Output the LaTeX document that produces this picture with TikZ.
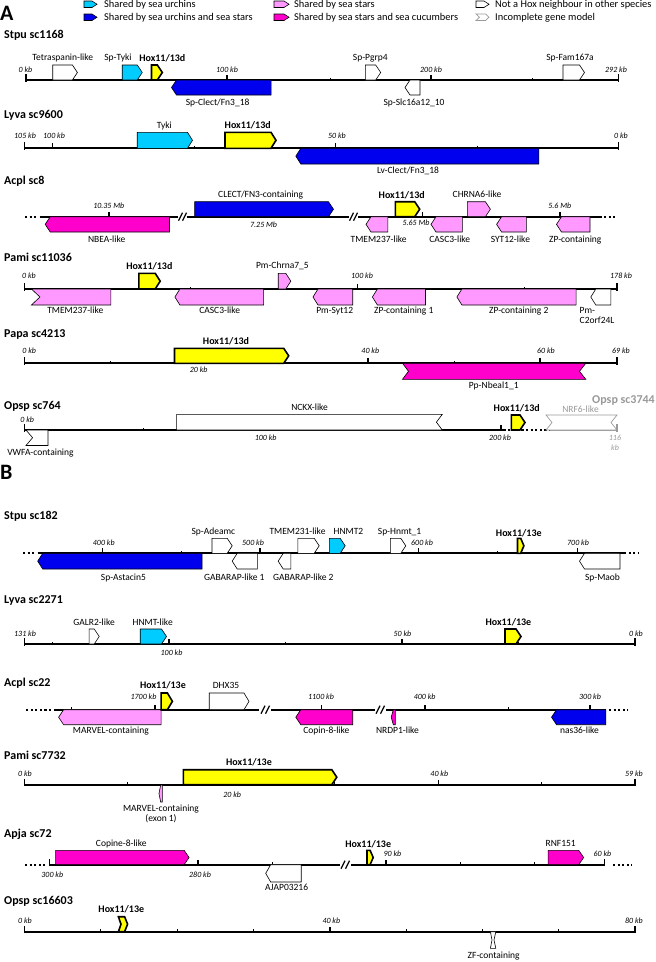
\documentclass[tikz,border=0pt]{standalone}
\usepackage{fontspec}
\setmainfont{Carlito}
\definecolor{cUrch}{HTML}{00CCFF}
\definecolor{cBlue}{HTML}{0000EE}
\definecolor{cPink}{HTML}{FF99FF}
\definecolor{cMag}{HTML}{FF00CC}
\definecolor{cYel}{HTML}{FFFF00}
\definecolor{cGray}{HTML}{999999}
\newcommand\gR[5]{\pgfmathsetmacro\hh{min(5,(#2-#1)*0.5)}%
  \path[#5] (#1,#3) -- ({#2-\hh},#3) -- (#2,{(#3+#4)/2}) -- ({#2-\hh},#4) -- (#1,#4) -- cycle;}
\newcommand\gL[5]{\pgfmathsetmacro\hh{min(5,(#2-#1)*0.5)}%
  \path[#5] (#2,#3) -- ({#1+\hh},#3) -- (#1,{(#3+#4)/2}) -- ({#1+\hh},#4) -- (#2,#4) -- cycle;}
\newcommand\tkE[2]{\draw[tkend] (#1,{#2+1.5}) -- (#1,{#2-6});}
\newcommand\tkM[2]{\draw[tkmaj] (#1,#2) -- (#1,{#2-5});}
\newcommand\tkm[2]{\draw[tkmin] (#1,#2) -- (#1,{#2-2.5});}
\newcommand\brkmk[2]{\draw[brk] ({#1-2},{#2+4}) -- ({#1+2},{#2-4});}
\tikzset{
 axisl/.style={line width=2pt},
 dotl/.style={line width=2.2pt, dash pattern=on 2.2pt off 2.4pt},
 tkend/.style={line width=1.6pt},
 tkmaj/.style={line width=1.6pt},
 tkmin/.style={line width=0.9pt},
 brk/.style={line width=1.3pt},
 gwhite/.style={draw=black, fill=white, line width=0.6pt},
 gurch/.style={draw=black, fill=cUrch, line width=0.6pt},
 gblue/.style={draw=black, fill=cBlue, line width=0.6pt},
 gpink/.style={draw=black, fill=cPink, line width=0.6pt},
 gmag/.style={draw=black, fill=cMag, line width=0.6pt},
 ghox/.style={draw=black, fill=cYel, line width=1.6pt},
 ginc/.style={draw=cGray, fill=white, line width=0.7pt},
 ttl/.style={font=\bfseries\fontsize{12}{12}\selectfont, anchor=west, inner sep=0pt},
 big/.style={font=\bfseries\fontsize{22}{22}\selectfont, anchor=west, inner sep=0pt},
 lbl/.style={font=\fontsize{9.5}{10}\selectfont, inner sep=0pt, text height=6.5pt, text depth=2pt},
 hlbl/.style={font=\bfseries\fontsize{10}{10}\selectfont, inner sep=0pt, text height=6.8pt, text depth=2pt},
 tkl/.style={font=\itshape\fontsize{8}{8}\selectfont, inner sep=0pt, text height=5.5pt, text depth=1.5pt},
 leg/.style={font=\fontsize{10.4}{11}\selectfont, anchor=west, inner sep=0pt, text height=7pt, text depth=2pt},
}
\begin{document}
\begin{tikzpicture}[x=1pt,y=-1pt]
\useasboundingbox (0,0) rectangle (656,962);
% ---------- legend ----------
\node[big] (pA) at (0,13) {A};
\gR{84}{97}{1}{7.5}{gurch}
\node[leg] (lg1) at (104,4.5) {Shared by sea urchins};
\gR{84}{97}{14}{20.5}{gblue}
\node[leg] (lg2) at (104,17.5) {Shared by sea urchins and sea stars};
\gR{274}{289}{1}{7.5}{gpink}
\node[leg] (lg3) at (294,4.5) {Shared by sea stars};
\gR{274}{289}{14}{20.5}{gmag}
\node[leg] (lg4) at (294,17.5) {Shared by sea stars and sea cucumbers};
\gR{476}{489}{1}{7.5}{gwhite}
\node[leg] (lg5) at (495,4.5) {Not a Hox neighbour in other species};
\path[ginc] (476,14) -- (485.5,14) -- (489,17.25) -- (485.5,20.5) -- (476,20.5) -- (479.5,17.25) -- cycle;
\node[leg] (lg6) at (495,17.5) {Incomplete gene model};
% ---------- Stpu sc1168 ----------
\node[ttl] (t1) at (4,35.3) {Stpu sc1168};
\draw[axisl] (25.9,80) -- (618.4,80);
\tkE{25.9}{80}\tkE{618.4}{80}\tkM{227}{80}\tkM{431}{80}
\tkm{127}{80}\tkm{330}{80}\tkm{532}{80}
\node[tkl] (k11) at (25.5,70.7) {0 kb};
\node[tkl] (k12) at (227,70.7) {100 kb};
\node[tkl] (k13) at (431,70.7) {200 kb};
\node[tkl] (k14) at (616,70.7) {292 kb};
\gR{52.7}{77.4}{65}{80}{gwhite}
\gR{122.2}{142.3}{65}{80}{gurch}
\gR{151.5}{162.3}{65}{80}{ghox}
\gL{171.5}{271.1}{80}{95}{gblue}
\gR{365.3}{380.7}{65}{80}{gwhite}
\gL{405}{420}{80}{95}{gwhite}
\gR{563}{584.5}{65}{80}{gwhite}
\node[lbl] (a1) at (62.8,58.7) {Tetraspanin-like};
\node[lbl] (a2) at (118,58.7) {Sp-Tyki};
\node[hlbl] (a3) at (162.3,58.7) {Hox11/13d};
\node[lbl] (a4) at (217.6,103) {Sp-Clect/Fn3\_18};
\node[lbl] (a5) at (370.3,58.7) {Sp-Pgrp4};
\node[lbl] (a6) at (414,103) {Sp-Slc16a12\_10};
\node[lbl] (a7) at (570,58.7) {Sp-Fam167a};
% ---------- Lyva sc9600 ----------
\node[ttl] (t2) at (4,115) {Lyva sc9600};
\draw[axisl] (24.3,148.3) -- (618.4,148.3);
\tkE{24.3}{148.3}\tkE{618.4}{148.3}\tkM{52.6}{148.3}\tkM{335.5}{148.3}
\tkm{194}{148.3}\tkm{477}{148.3}
\node[tkl] (k21) at (25,136) {105 kb};
\node[tkl] (k22) at (54,136) {100 kb};
\node[tkl] (k23) at (337,136) {50 kb};
\node[tkl] (k24) at (621,136) {0 kb};
\gR{137.2}{192.5}{132.3}{148.3}{gurch}
\gR{225}{276}{132.3}{148.3}{ghox}
\gL{295.8}{538.9}{148.3}{164}{gblue}
\node[lbl] (b1) at (164.4,126) {Tyki};
\node[hlbl] (b2) at (247.7,126) {Hox11/13d};
\node[lbl] (b3) at (408,171.7) {Lv-Clect/Fn3\_18};
% ---------- Acpl sc8 ----------
\node[ttl] (t3) at (4,181.7) {Acpl sc8};
\draw[dotl] (25,216.7) -- (38,216.7);
\draw[axisl] (39.7,216.7) -- (178,216.7);
\brkmk{180.5}{216.7}\brkmk{184.5}{216.7}
\draw[axisl] (186.5,216.7) -- (349,216.7);
\brkmk{351.5}{216.7}\brkmk{355.5}{216.7}
\draw[axisl] (358,216.7) -- (601.7,216.7);
\draw[dotl] (604,216.7) -- (617,216.7);
\tkM{108.8}{216.7}\tkM{422.6}{216.7}\tkM{559.8}{216.7}
\node[tkl] (k31) at (108.8,206.7) {10.35 Mb};
\node[tkl] (k32) at (263.6,225) {7.25 Mb};
\node[tkl] (k33) at (416,223.5) {5.65 Mb};
\node[tkl] (k34) at (559.8,206.7) {5.6 Mb};
\gL{45.2}{169.5}{216.7}{232}{gmag}
\gR{194.6}{333.5}{201.7}{216.7}{gblue}
\gR{395.4}{419.7}{201.7}{216.7}{ghox}
\gR{467.4}{490.4}{201.7}{216.7}{gpink}
\gL{366}{387.9}{216.7}{232}{gpink}
\gL{431}{462.3}{216.7}{232}{gpink}
\gL{496.6}{526.4}{216.7}{232}{gpink}
\gL{556.5}{590}{216.7}{232}{gpink}
\node[lbl] (c1) at (106.7,240) {NBEA-like};
\node[lbl] (c2) at (260.7,195) {CLECT/FN3-containing};
\node[hlbl] (c3) at (401.7,196) {Hox11/13d};
\node[lbl] (c4) at (477,195) {CHRNA6-like};
\node[lbl] (c5) at (378.7,240) {TMEM237-like};
\node[lbl] (c6) at (449.8,240) {CASC3-like};
\node[lbl] (c7) at (510.4,240) {SYT12-like};
\node[lbl] (c8) at (575.3,240) {ZP-containing};
% ---------- Pami sc11036 ----------
\node[ttl] (t4) at (4,257.3) {Pami sc11036};
\draw[axisl] (24.3,289) -- (617.1,289);
\tkE{24.3}{289}\tkE{617.1}{289}\tkM{357.4}{289}
\tkm{190.8}{289}\tkm{524}{289}
\node[tkl] (k41) at (29,276.7) {0 kb};
\node[tkl] (k42) at (362,276.7) {100 kb};
\node[tkl] (k43) at (621,276.7) {178 kb};
\gR{138.9}{160.2}{273.3}{289}{ghox}
\gR{278.2}{290.8}{273.3}{289}{gpink}
\path[gpink] (31.4,289) -- (110.9,289) -- (110.9,305) -- (31.4,305) -- (40,297) -- cycle;
\gL{174.9}{263.6}{289}{305}{gpink}
\gL{313}{352.7}{289}{305}{gpink}
\gL{372.4}{425.5}{289}{305}{gpink}
\gL{456.9}{576.1}{289}{305}{gpink}
\gL{590.8}{610.9}{289}{305}{gwhite}
\node[hlbl] (d1) at (149.4,266.7) {Hox11/13d};
\node[lbl] (d2) at (282.4,266.7) {Pm-Chrna7\_5};
\node[lbl] (d3) at (75.3,311.7) {TMEM237-like};
\node[lbl] (d4) at (219.7,311.7) {CASC3-like};
\node[lbl] (d5) at (334.7,311.7) {Pm-Syt12};
\node[lbl] (d6) at (403.8,311.7) {ZP-containing 1};
\node[lbl] (d7) at (518.8,311.7) {ZP-containing 2};
\node[lbl, anchor=west] (d8) at (579.5,311.7) {Pm-};
\node[lbl, anchor=west] (d9) at (579.5,321.7) {C2orf24L};
% ---------- Papa sc4213 ----------
\node[ttl] (t5) at (4,335) {Papa sc4213};
\draw[axisl] (24.3,363.3) -- (617.1,363.3);
\tkE{24.3}{363.3}\tkE{617.1}{363.3}\tkM{196.2}{363.3}\tkM{368}{363.3}\tkM{540}{363.3}
\tkm{110.2}{363.3}\tkm{282}{363.3}\tkm{454}{363.3}
\node[tkl] (k51) at (29.3,351.7) {0 kb};
\node[tkl] (k52) at (198.7,370.5) {20 kb};
\node[tkl] (k53) at (370.3,351.7) {40 kb};
\node[tkl] (k54) at (546,351.7) {60 kb};
\node[tkl] (k55) at (621,351.7) {69 kb};
\gR{174.5}{288.7}{348.3}{363.3}{ghox}
\path[gmag] (402.5,363.3) -- (585.8,363.3) -- (579.5,371.3) -- (585.8,379.3) -- (402.5,379.3) -- (408.5,371.3) -- cycle;
\node[hlbl] (e1) at (226,342.3) {Hox11/13d};
\node[lbl] (e2) at (493.7,386.7) {Pp-Nbeal1\_1};
% ---------- Opsp sc764 ----------
\node[ttl] (t6) at (4,406.7) {Opsp sc764};
\node[ttl, anchor=east, text=cGray] (t6b) at (655,400.5) {Opsp sc3744};
\draw[axisl] (24.3,430) -- (506.3,430);
\draw[dotl] (507.5,430) -- (549,430);
\draw[axisl, cGray] (550,430) -- (617.1,430);
\tkE{24.3}{430}\draw[tkend, cGray] (617.1,431.5) -- (617.1,424);
\tkM{262.6}{430}\tkM{500.8}{430}
\tkm{143.5}{430}\tkm{381.7}{430}
\node[tkl] (k61) at (27.2,420) {0 kb};
\node[tkl] (k62) at (265.7,438.5) {100 kb};
\node[tkl] (k63) at (500,438.5) {200 kb};
\node[tkl, text=cGray] (k64) at (615,438.5) {116};
\node[tkl, text=cGray] (k65) at (615,448.3) {kb};
\path[gwhite] (26,430) -- (48,430) -- (48,445.5) -- (26,445.5) -- (32.6,437.7) -- cycle;
\path[gwhite] (176.6,414.3) -- (442.3,414.3) -- (436.4,422.2) -- (442.3,430) -- (176.6,430) -- cycle;
\gR{511.3}{525}{415}{430}{ghox}
\path[ginc] (546,415) -- (617,415) -- (611,422.5) -- (617,430) -- (546,430) -- (552,422.5) -- cycle;
\node[lbl] (f1) at (40.5,453.3) {VWFA-containing};
\node[lbl] (f2) at (309.6,408.5) {NCKX-like};
\node[hlbl] (f3) at (516.7,409) {Hox11/13d};
\node[lbl, text=cGray] (f4) at (580.5,410.6) {NRF6-like};
% ---------- B ----------
\node[big] (pB) at (0,472) {B};
% ---------- Stpu sc182 ----------
\node[ttl] (t7) at (4,516) {Stpu sc182};
\draw[dotl] (23,553.3) -- (35,553.3);
\draw[axisl] (37.7,553.3) -- (625.5,553.3);
\draw[dotl] (628.5,553.3) -- (638,553.3);
\tkM{102.5}{553.3}\tkM{260.2}{553.3}\tkM{418.4}{553.3}\tkM{577.4}{553.3}
\tkm{181.4}{553.3}\tkm{339.3}{553.3}\tkm{497.9}{553.3}
\node[tkl] (k71) at (103.8,543.3) {400 kb};
\node[tkl] (k72) at (253,543.3) {500 kb};
\node[tkl] (k73) at (422,543.3) {600 kb};
\node[tkl] (k74) at (578,543.3) {700 kb};
\gL{37.7}{202}{553.3}{569}{gblue}
\gR{212}{232.2}{538.3}{553.3}{gwhite}
\gL{232.2}{257.3}{553.3}{569}{gwhite}
\gL{278.2}{290.8}{553.3}{569}{gwhite}
\gR{297.9}{319.2}{538.3}{553.3}{gwhite}
\gR{329.3}{345.2}{538.3}{553.3}{gurch}
\gR{390.4}{405.8}{538.3}{553.3}{gwhite}
\gR{517.5}{523.9}{538.3}{553.3}{ghox}
\gL{579.5}{620}{553.3}{569}{gwhite}
\node[lbl] (g1) at (123.4,578.3) {Sp-Astacin5};
\node[lbl] (g2) at (213.4,532.7) {Sp-Adeamc};
\node[lbl] (g3) at (234.3,578.3) {GABARAP-like 1};
\node[lbl] (g4) at (303.3,578.3) {GABARAP-like 2};
\node[lbl] (g5) at (297.5,532.7) {TMEM231-like};
\node[lbl] (g6) at (348.5,532.7) {HNMT2};
\node[lbl] (g7) at (399.6,532.7) {Sp-Hnmt\_1};
\node[hlbl] (g8) at (518.8,534) {Hox11/13e};
\node[lbl] (g9) at (602.5,578.3) {Sp-Maob};
% ---------- Lyva sc2271 ----------
\node[ttl] (t8) at (4,600) {Lyva sc2271};
\draw[axisl] (24.3,644) -- (635.1,644);
\tkE{24.3}{644}\tkE{635.1}{644}\tkM{168.8}{644}\tkM{401.9}{644}
\tkm{52.2}{644}\tkm{285.4}{644}\tkm{518.5}{644}
\node[tkl] (k81) at (25,634) {131 kb};
\node[tkl] (k82) at (171.5,653) {100 kb};
\node[tkl] (k83) at (402.5,634) {50 kb};
\node[tkl] (k84) at (636,634) {0 kb};
\gR{89.1}{99.2}{629}{644}{gwhite}
\gR{140.2}{166.5}{629}{644}{gurch}
\gR{505}{521}{629}{644}{ghox}
\node[lbl] (h1) at (94.1,623) {GALR2-like};
\node[lbl] (h2) at (152.7,623) {HNMT-like};
\node[hlbl] (h3) at (508.4,623) {Hox11/13e};
% ---------- Acpl sc22 ----------
\node[ttl] (t9) at (4,683) {Acpl sc22};
\draw[dotl] (26,709.7) -- (51,709.7);
\draw[axisl] (54.4,709.7) -- (259.4,709.7);
\brkmk{263}{709.7}\brkmk{267.5}{709.7}
\draw[axisl] (271,709.7) -- (374.5,709.7);
\brkmk{378}{709.7}\brkmk{382.5}{709.7}
\draw[axisl] (386,709.7) -- (605.8,709.7);
\draw[dotl] (609,709.7) -- (628,709.7);
\tkM{154.8}{709.7}\tkM{321.3}{709.7}\tkM{424.7}{709.7}\tkM{590}{709.7}
\tkm{71.1}{709.7}\tkm{238.5}{709.7}\tkm{508.4}{709.7}
\node[tkl] (k91) at (143.5,697.3) {1700 kb};
\node[tkl] (k92) at (321,697.3) {1100 kb};
\node[tkl] (k93) at (424.7,697.3) {400 kb};
\node[tkl] (k94) at (590,697.3) {300 kb};
\gL{58.6}{161.1}{709.7}{724.7}{gpink}
\gR{161.1}{172.4}{693}{709.7}{ghox}
\gR{209.2}{249}{693}{709.7}{gwhite}
\gL{295.8}{352.7}{709.7}{724.7}{gmag}
\gL{391.2}{395.4}{709.7}{724.7}{gmag}
\gL{551.5}{605.8}{709.7}{724.7}{gblue}
\node[lbl] (i1) at (110.9,731.3) {MARVEL-containing};
\node[hlbl] (i2) at (163,686.3) {Hox11/13e};
\node[lbl] (i3) at (226,686.3) {DHX35};
\node[lbl] (i4) at (326.4,731.3) {Copin-8-like};
\node[lbl] (i5) at (397.5,731.3) {NRDP1-like};
\node[lbl] (i6) at (579.5,731.3) {nas36-like};
% ---------- Pami sc7732 ----------
\node[ttl] (t10) at (4,755) {Pami sc7732};
\draw[axisl] (24.3,784.7) -- (635.1,784.7);
\tkE{24.3}{784.7}\tkE{635.1}{784.7}\tkM{231.4}{784.7}\tkM{438.4}{784.7}
\tkm{127.8}{784.7}\tkm{334.8}{784.7}\tkm{541.8}{784.7}
\node[tkl] (k101) at (25,774) {0 kb};
\node[tkl] (k102) at (232.2,795) {20 kb};
\node[tkl] (k103) at (439.3,774) {40 kb};
\node[tkl] (k104) at (634,774) {59 kb};
\gR{183.3}{336.8}{769.7}{784.7}{ghox}
\gL{159}{162.3}{785}{802}{gpink}
\node[hlbl] (j1) at (249,763) {Hox11/13e};
\node[lbl] (j2) at (161,809.7) {MARVEL-containing};
\node[lbl] (j3) at (161,819.2) {(exon 1)};
% ---------- Apja sc72 ----------
\node[ttl] (t11) at (4,834.7) {Apja sc72};
\draw[dotl] (25,864.7) -- (45,864.7);
\draw[axisl] (49.4,864.7) -- (339.7,864.7);
\brkmk{343}{864.7}\brkmk{347.5}{864.7}
\draw[axisl] (351,864.7) -- (604.6,864.7);
\draw[dotl] (613,864.7) -- (632,864.7);
\tkE{49.4}{864.7}\tkE{604.6}{864.7}\tkM{197.9}{864.7}\tkM{385.8}{864.7}
\tkm{123.6}{864.7}\tkm{272}{864.7}\tkm{460.2}{864.7}\tkm{534.7}{864.7}
\node[tkl] (k111) at (52.3,875) {300 kb};
\node[tkl] (k112) at (200,875) {280 kb};
\node[tkl] (k113) at (392.5,854.7) {90 kb};
\node[tkl] (k114) at (602.5,854.7) {60 kb};
\gR{55.6}{189.1}{850.3}{864.7}{gmag}
\gL{265.7}{301.2}{864.7}{882}{gwhite}
\gR{367}{373.2}{850.3}{864.7}{ghox}
\gR{548.1}{583.7}{850.3}{864.7}{gmag}
\node[lbl] (m1) at (121.3,844.7) {Copine-8-like};
\node[lbl] (m2) at (286.6,888.7) {AJAP03216};
\node[hlbl] (m3) at (368.2,844.7) {Hox11/13e};
\node[lbl] (m4) at (560.7,844.7) {RNF151};
% ---------- Opsp sc16603 ----------
\node[ttl] (t12) at (4,901.7) {Opsp sc16603};
\draw[axisl] (24.3,931.7) -- (635.1,931.7);
\tkE{24.3}{931.7}\tkE{635.1}{931.7}\tkM{329.7}{931.7}
\tkm{100.6}{931.7}\tkm{177}{931.7}\tkm{253.4}{931.7}\tkm{406}{931.7}\tkm{482.4}{931.7}\tkm{558.8}{931.7}
\node[tkl] (k121) at (25,921) {0 kb};
\node[tkl] (k122) at (331.4,921) {40 kb};
\node[tkl] (k123) at (634,921) {80 kb};
\path[ghox] (118.4,916.7) -- (124.6,916.7) -- (127.6,924.2) -- (124.6,931.7) -- (118.4,931.7) -- (121,924.2) -- cycle;
\path[gwhite] (490.4,931.7) -- (495.8,931.7) -- (494,940) -- (495.8,948.3) -- (490.4,948.3) -- (492,940) -- cycle;
\node[hlbl] (n1) at (121.3,910) {Hox11/13e};
\node[lbl] (n2) at (493.7,956) {ZF-containing};
\end{tikzpicture}
\end{document}
